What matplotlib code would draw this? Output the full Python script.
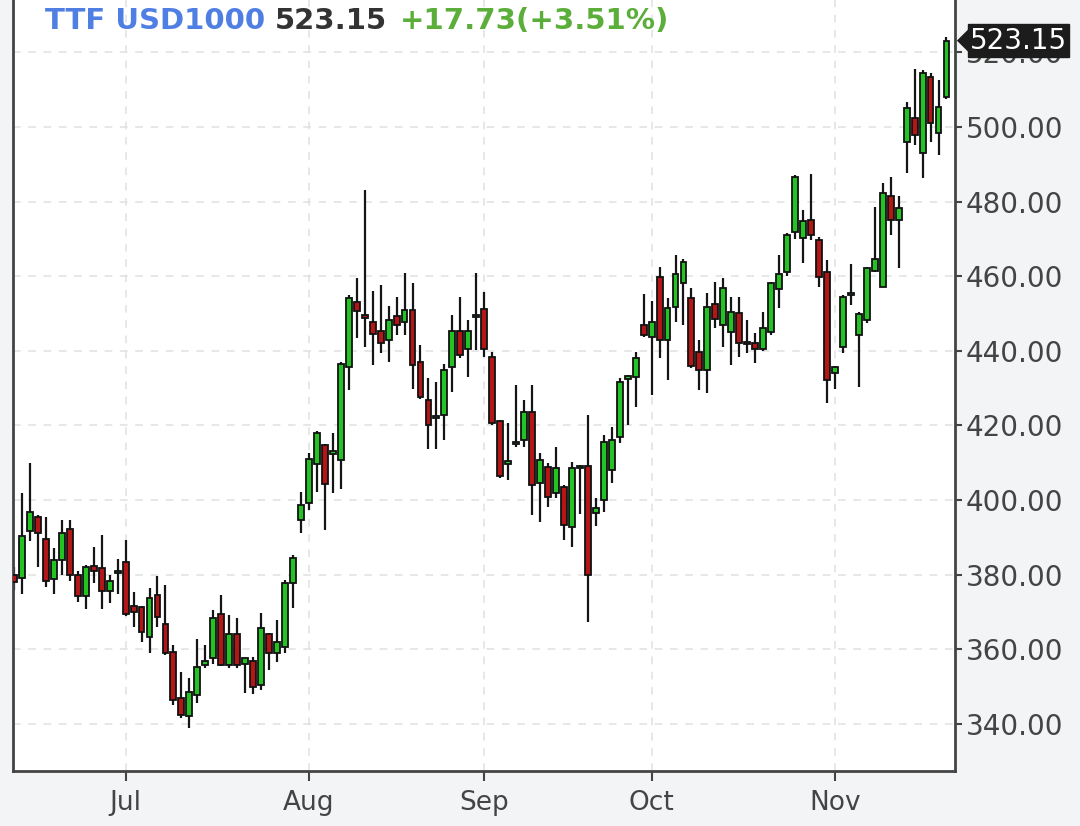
import numpy as np
import pandas as pd
import matplotlib
matplotlib.use('Agg')
import matplotlib.pyplot as plt
from matplotlib import transforms
from matplotlib.patches import Polygon

# trading days shown in the chart
dates = pd.bdate_range('2024-06-11', '2024-11-21')

opens = [380, 379.1, 391.8, 395.4, 389.7, 378.9, 384, 392.2, 380, 374.2,
         382.4, 381.8, 375.7, 380.5, 383.3, 371.5, 371.4, 363.2, 374.6, 366.8,
         359.4, 346.9, 342.1, 347.8, 355.8, 357.6, 369.6, 355.8, 364.1, 356,
         357, 350.5, 364.1, 358.9, 360.7, 377.7, 394.6, 399.3, 409.8, 414.8,
         412.3, 410.7, 435.6, 453.2, 449.6, 447.8, 445.2, 442.9, 449.3, 447.8,
         450.9, 437.1, 426.8, 422, 422.8, 435.8, 445.4, 440.4, 449, 451.1,
         438.3, 421.3, 409.8, 415, 416.1, 423.7, 404.5, 409, 401.8, 403.6,
         392.9, 408.5, 409.1, 396.5, 400, 408, 417, 432.4, 432.9, 446.9,
         443.6, 459.9, 442.9, 451.8, 458.1, 454.3, 439.8, 434.9, 452.6, 446.9,
         445.1, 450.2, 442.4, 442, 440.4, 445.1, 456.5, 461.2, 471.9, 470.2,
         475.1, 469.7, 461.2, 434, 441.1, 455, 444.2, 448.3, 461.5, 457.2,
         481.5, 475.1, 496.1, 502.3, 492.9, 513.5, 498.3, 508]
highs = [382, 401.9, 409.9, 396, 395.5, 387.3, 394.6, 394.6, 381, 382.5,
         387.5, 390.6, 380, 384.2, 389.2, 375.5, 371.5, 376.4, 379.7, 377.2,
         361.2, 354, 352.2, 362.7, 361.2, 370.5, 374.7, 369.2, 368.3, 357.8,
         358, 369.8, 364.5, 368, 378.6, 385.3, 402.2, 412.5, 418.5, 415,
         417.9, 437, 455, 459.4, 483.1, 456.1, 457.6, 452, 454.5, 461,
         458.3, 441.6, 432.6, 431.7, 436.6, 449.6, 454.5, 448.3, 460.8, 455.9,
         439.8, 421.5, 420.6, 430.8, 426.8, 430.8, 412.5, 410, 414.3, 404,
         410.3, 409.5, 422.8, 400.5, 417.4, 419.7, 432.6, 433.5, 439.8, 455.2,
         453.4, 462.4, 454.3, 465.7, 464.5, 456.8, 442.9, 455.4, 458.5, 459.4,
         454.5, 454.5, 448.3, 444.7, 450.5, 458.5, 465.7, 471.5, 487.1, 477.8,
         487.4, 470.5, 464.4, 436, 455, 463.3, 450.5, 462.5, 478.6, 484.9,
         486.7, 481.5, 506.8, 515.5, 515.3, 514.4, 512.6, 524.2]
lows = [376, 374.8, 389, 382, 376.6, 374.8, 380, 378.2, 372.6, 370.8,
        377.9, 370.8, 372.3, 374.8, 369, 366, 362, 358.9, 366.1, 358.5,
        345, 341.5, 338.8, 345.5, 355, 356.2, 355.5, 355, 355, 348.2,
        348, 349, 354.4, 356.7, 358.9, 371, 391.1, 397.3, 402.2, 392,
        401.8, 403.1, 429.5, 443.4, 441.1, 436.2, 439.3, 436.9, 444.3, 444.3,
        429.9, 427, 413.6, 413.6, 416.1, 429.1, 438, 433.1, 440.2, 438.4,
        420, 406, 405.4, 414.3, 414.3, 396, 394.2, 398.2, 400.5, 389.3,
        387.5, 396.4, 367.4, 393, 396.8, 404.5, 415.2, 420.1, 425, 443.6,
        428.2, 438, 432.2, 447.8, 446.9, 435.3, 429.5, 428.6, 446, 441.1,
        436.2, 438.4, 439.3, 436.7, 440, 444.2, 451.4, 460, 470, 463.5,
        469.7, 457.2, 426, 429.9, 439.3, 452.3, 430.4, 447.4, 461.2, 457,
        471, 462.1, 487.6, 495.2, 486.2, 496.1, 492.5, 507.5]
closes = [378, 390.4, 396.9, 391.1, 378.2, 384, 391.3, 380, 374.2, 382.2,
          380.9, 375.7, 378.4, 380.8, 369.5, 370, 364.7, 373.9, 368.8, 358.9,
          346.4, 342.4, 348.6, 355.4, 356.9, 368.3, 355.8, 364.1, 355.8, 357.6,
          350, 365.6, 358.9, 362, 377.7, 384.4, 398.7, 410.9, 418.1, 404.3,
          413.2, 436.6, 454.3, 450.8, 448.7, 444.5, 442, 448.4, 446.9, 450.9,
          436.2, 427.7, 420.1, 422.4, 434.8, 445.4, 438.9, 445.4, 449.6, 440.4,
          420.8, 406.4, 410.5, 415.6, 423.7, 404, 410.7, 400.9, 408.5, 393.3,
          408.5, 409.1, 379.9, 398, 415.6, 416, 431.7, 433.2, 438.2, 444.2,
          447.8, 442.9, 451.4, 460.6, 463.9, 435.9, 434.9, 451.8, 448.5, 456.8,
          450.5, 442, 441.8, 440.4, 446, 458.1, 460.6, 471.1, 486.5, 474.9,
          471.1, 459.7, 432.2, 435.7, 454.5, 455.2, 450, 462.1, 464.5, 482.4,
          475.1, 478.2, 505, 497.8, 514.4, 501, 505.4, 523.15]

month_labels = ['Jul', 'Aug', 'Sep', 'Oct', 'Nov']
y_ticks = [340, 360, 380, 400, 420, 440, 460, 480, 500, 520]
last_price = 523.15
change = 17.73
change_pct = 3.51

W, H = 1080, 826
fig = plt.figure(figsize=(W / 100, H / 100), dpi=100, facecolor='#f3f4f6')
ax = fig.add_axes([13 / W, 1 - 771 / H, (955 - 13) / W, 771 / H])
ax.set_facecolor('white')

o = np.array(opens)
h = np.array(highs)
l = np.array(lows)
c = np.array(closes)
x = np.arange(len(dates))
up = c >= o
body_bot = np.minimum(o, c)
body_h = np.maximum(np.abs(c - o), 0.5)
fill = np.where(up, '#22c322', '#b31616')

ax.vlines(x, l, h, color='#151515', linewidth=1.6, zorder=2)
ax.bar(x, body_h, bottom=body_bot, width=0.74, color=fill,
       edgecolor='#111111', linewidth=1.3, zorder=3)

# month ticks at first trading day of each month
month_pos = []
for m in [7, 8, 9, 10, 11]:
    month_pos.append(int(np.argmax(dates.month == m)))
ax.set_xticks(month_pos)
ax.set_xticklabels(month_labels)
ax.set_xlim(-0.13, 118.07)
ax.set_ylim(327.4, 534.04)
ax.set_yticks(y_ticks)
ax.set_yticklabels(['%.2f' % v for v in y_ticks])
ax.yaxis.tick_right()

ax.grid(True, color='#e0e0e0', linestyle=(0, (5, 5)), linewidth=1.1, zorder=0)
ax.set_axisbelow(True)

for s in ['left', 'right', 'bottom']:
    ax.spines[s].set_color('#444444')
    ax.spines[s].set_linewidth(2)
ax.spines['top'].set_visible(False)

ax.tick_params(axis='x', direction='out', length=7, width=1.5, colors='#444444',
               labelsize=19, pad=7, labelcolor='#444444')
ax.tick_params(axis='y', direction='out', length=5, width=1.5, colors='#444444',
               labelsize=20, pad=3, labelcolor='#444444')

# header text
ty = 1 - 21 / H
fig.text(45 / W, ty, 'TTF USD1000', color='#4f7fe3', fontsize=21,
         fontweight='bold', va='center', ha='left')
fig.text(275 / W, ty, '%.2f' % last_price, color='#333333', fontsize=21,
         fontweight='bold', va='center', ha='left')
fig.text(400 / W, ty, '+%.2f(+%.2f%%)' % (change, change_pct), color='#5cae3a',
         fontsize=21, fontweight='bold', va='center', ha='left')

# last price tag on the axis
trans = transforms.blended_transform_factory(ax.transAxes, ax.transData)
ax.text(1.016, last_price, '%.2f' % last_price, transform=trans, color='white',
        fontsize=20, va='center', ha='left', clip_on=False, zorder=10,
        bbox=dict(boxstyle='square,pad=0.08', fc='#1c1c1c', ec='#1c1c1c'))
ax.add_patch(Polygon([(1.002, last_price), (1.014, last_price + 3.0),
                      (1.014, last_price - 3.0)], closed=True, transform=trans,
                     fc='#1c1c1c', ec='none', clip_on=False, zorder=10))

fig.savefig('out.png', dpi=100, facecolor=fig.get_facecolor())
